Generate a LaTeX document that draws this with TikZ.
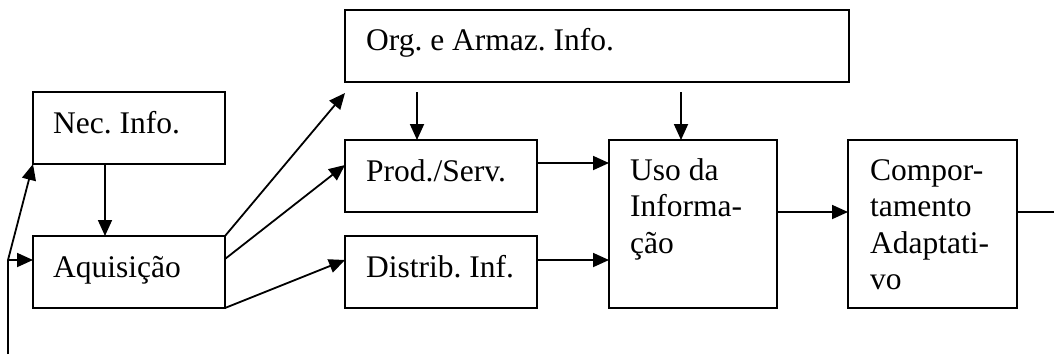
\documentclass[tikz,border=0pt]{standalone}
\usepackage{fontspec}
\setmainfont{Liberation Serif}
\frenchspacing
\usetikzlibrary{arrows.meta,calc}
\begin{document}
\begin{tikzpicture}[x=1pt,y=-1pt,
  box/.style={draw,line width=2pt,rectangle,inner sep=0pt,outer sep=0pt,anchor=north west},
  txt/.style={anchor=base west,inner sep=0pt,align=left,font=\fontsize{31.5}{36.5}\selectfont},
  arr/.style={line width=1.8pt,-{Triangle[length=16pt,width=14pt]}},
  wire/.style={line width=1.8pt}]
\useasboundingbox (0,0) rectangle (1054,354);

% boxes
\node[box,minimum width=192pt,minimum height=72pt]  (nec)  at (33,92)   {};
\node[box,minimum width=192pt,minimum height=72pt]  (aq)   at (33,236)  {};
\node[box,minimum width=504pt,minimum height=72pt]  (org)  at (345,10)  {};
\node[box,minimum width=192pt,minimum height=72pt]  (prod) at (345,140) {};
\node[box,minimum width=192pt,minimum height=72pt]  (dist) at (345,236) {};
\node[box,minimum width=168pt,minimum height=168pt] (uso)  at (609,140) {};
\node[box,minimum width=169pt,minimum height=168pt] (comp) at (848,140) {};

% labels (the base anchor of a multi-line label sits on its last line)
\node[txt] (necT)  at ($(nec.north west)+(20,41)$)  {Nec. Info.};
\node[txt] (aqT)   at ($(aq.north west)+(20,41)$)   {Aquisição};
\node[txt] (orgT)  at ($(org.north west)+(21,40)$)  {Org. e Armaz. Info.};
\node[txt] (prodT) at ($(prod.north west)+(21,41)$) {Prod./Serv.};
\node[txt] (distT) at ($(dist.north west)+(21,41)$) {Distrib. Inf.};
\node[txt] (usoT)  at ($(uso.north west)+(21,113)$)  {Uso da\\Informa-\\ção};
\node[txt] (compT) at ($(comp.north west)+(22,149.5)$) {Compor-\\tamento\\Adaptati-\\vo};

% feedback line on the left
\coordinate (fb0) at (8,354);
\coordinate (fb1) at (8,260);
\draw[wire] (fb0) -- (fb1);
\draw[arr] (fb1) -- ($(aq.north west)+(0,24)$);
\draw[arr] (fb1) -- (nec.south west);

% flows
\draw[arr] ($(nec.south west)+(72,0)$) -- ($(aq.north west)+(72,0)$);
\draw[arr] (aq.north east) -- ($(org.south west)+(0,11)$);
\draw[arr] ($(aq.north east)+(0,23)$) -- ($(prod.north west)+(0,25)$);
\draw[arr] (aq.south east) -- ($(dist.north west)+(0,24)$);
\draw[arr] ($(org.south west)+(72,10)$) -- ($(prod.north west)+(72,0)$);
\draw[arr] ($(uso.north west)+(72,-48)$) -- ($(uso.north west)+(72,0)$);
\draw[arr] ($(prod.north east)+(0,23)$) -- ($(uso.north west)+(0,23)$);
\draw[arr] ($(dist.north east)+(0,24)$) -- ($(uso.north west)+(0,120)$);
\draw[arr] ($(uso.north east)+(0,72)$) -- ($(comp.north west)+(0,72)$);
\coordinate (out) at (1054,212);
\draw[wire] ($(comp.north east)+(0,72)$) -- (out);
\end{tikzpicture}
\end{document}
